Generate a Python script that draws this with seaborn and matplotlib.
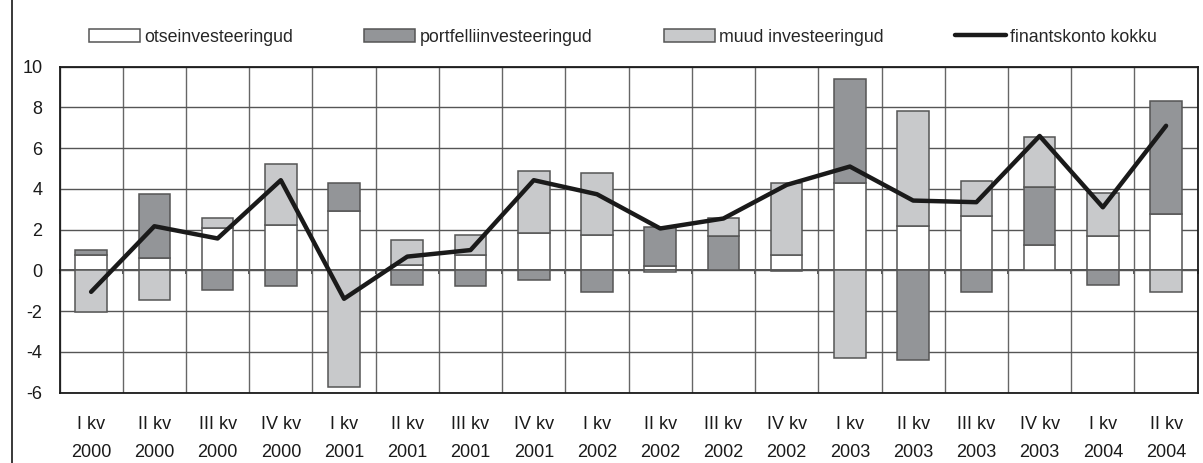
import numpy as np
import pandas as pd
import matplotlib
matplotlib.use("Agg")
import matplotlib.pyplot as plt
from matplotlib.patches import Rectangle, Patch
from matplotlib.lines import Line2D
import seaborn as sns

# ---- data ----
quarters = ["I kv", "II kv", "III kv", "IV kv", "I kv", "II kv", "III kv", "IV kv",
            "I kv", "II kv", "III kv", "IV kv", "I kv", "II kv", "III kv", "IV kv",
            "I kv", "II kv"]
years = ["2000", "2000", "2000", "2000", "2001", "2001", "2001", "2001",
         "2002", "2002", "2002", "2002", "2003", "2003", "2003", "2003",
         "2004", "2004"]
otse = [0.75, 0.59, 2.08, 2.24, 2.94, 0.29, 0.78, 1.86, 1.76, 0.20, 0.0, 0.78,
        4.31, 2.16, 2.65, 1.26, 1.67, 2.75]
portfell = [0.23, 3.15, -0.98, -0.78, 1.37, -0.69, -0.78, -0.49, -1.08, 1.94, 1.67, -0.05,
            5.10, -4.41, -1.08, 2.86, -0.69, 5.58]
muud = [-2.06, -1.47, 0.47, 2.97, -5.70, 1.20, 0.98, 3.04, 3.04, -0.10, 0.88, 3.53,
        -4.31, 5.68, 1.76, 2.45, 2.15, -1.08]
kokku = [-1.05, 2.17, 1.57, 4.43, -1.39, 0.68, 1.00, 4.43, 3.74, 2.06, 2.55, 4.20,
         5.10, 3.43, 3.35, 6.60, 3.10, 7.10]
series_names = ["otseinvesteeringud", "portfelliinvesteeringud", "muud investeeringud"]
line_name = "finantskonto kokku"
yticks = [-6, -4, -2, 0, 2, 4, 6, 8, 10]

labels = [f"{q}\n{y}" for q, y in zip(quarters, years)]
colors = ["#ffffff", "#939598", "#c8c9cb"]
edge = "#555555"

sns.set_style("white")
plt.rcParams["font.family"] = ["Liberation Sans", "DejaVu Sans"]
FS = 13
LFS = 12.8
plt.rcParams["font.size"] = FS

fig = plt.figure(figsize=(12.03, 4.63), dpi=100)
ax = fig.add_axes([59.5 / 1203, 1 - 392.7 / 463, (1197.7 - 59.5) / 1203, (392.7 - 66.7) / 463])

n = len(labels)
pos_base = np.zeros(n)
neg_base = np.zeros(n)
for vals, col, name in zip([otse, portfell, muud], colors, series_names):
    v = np.array(vals, dtype=float)
    bottoms = np.where(v >= 0, pos_base, neg_base)
    df = pd.DataFrame({"kv": labels, "v": v})
    sns.barplot(data=df, x="kv", y="v", order=labels, width=0.5, color=col,
                edgecolor=edge, linewidth=1.1, saturation=1, bottom=bottoms,
                errorbar=None, ax=ax, zorder=3)
    pos_base = pos_base + np.where(v >= 0, v, 0)
    neg_base = neg_base + np.where(v < 0, v, 0)

dfl = pd.DataFrame({"kv": labels, "v": kokku})
sns.pointplot(data=dfl, x="kv", y="v", order=labels, color="#1a1a1a",
              markers="", linewidth=3.2, errorbar=None, ax=ax, zorder=5)

ax.set_xlim(-0.5, n - 0.5)
ax.set_ylim(-6, 10)
ax.set_yticks(yticks)
ax.set_yticklabels([str(t) for t in yticks])
ax.set_xlabel("")
ax.set_ylabel("")
ax.set_xticks(np.arange(n))
ax.set_xticklabels(labels)
ax.set_xticks(np.arange(n + 1) - 0.5, minor=True)
ax.tick_params(axis="x", which="both", length=0, pad=16.5, labelsize=FS, colors="#1a1a1a")
ax.tick_params(axis="y", length=4.3, width=1, pad=8, labelsize=FS, colors="#1a1a1a",
               direction="out")
for lbl in ax.get_xticklabels():
    lbl.set_linespacing(1.9)

ax.grid(False)
ax.yaxis.grid(True, color="#555555", linewidth=1.0, zorder=0)
ax.xaxis.grid(True, which="minor", color="#666666", linewidth=1.0, zorder=0)
ax.set_axisbelow(True)
for s in ax.spines.values():
    s.set_color("#1a1a1a")
    s.set_linewidth(1.3)
    s.set_visible(True)

# category axis crossing at zero
sec = ax.secondary_xaxis(6 / 16)
sec.set_xticks(np.arange(n + 1) - 0.5)
sec.set_xticklabels([])
sec.tick_params(axis="x", length=3, width=1.2, color="#333333", direction="out")
sec.spines["bottom"].set_color("#333333")
sec.spines["bottom"].set_linewidth(1.2)

# legend
em = LFS * 100 / 72
handles = [Patch(facecolor=c, edgecolor=edge, linewidth=1.1) for c in colors]
handles.append(Line2D([0], [0], color="#1a1a1a", linewidth=3.2))
fig.legend(handles, series_names + [line_name], loc="center left",
           bbox_to_anchor=(89 / 1203, 1 - 37 / 463), ncol=4, frameon=False,
           fontsize=LFS, handlelength=51 / em, handleheight=0.7,
           handletextpad=4 / em, columnspacing=71.5 / em,
           borderaxespad=0, borderpad=0)

# outer frame of the figure (top and left visible)
fig.patches.append(Rectangle((11.7 / 1203, -0.2), 1.2, 1.2 + (1 - 12.7 / 463),
                             transform=fig.transFigure, fill=False,
                             edgecolor="#2a2a2a", linewidth=1.3, zorder=10))

fig.savefig("out.png", dpi=100)
